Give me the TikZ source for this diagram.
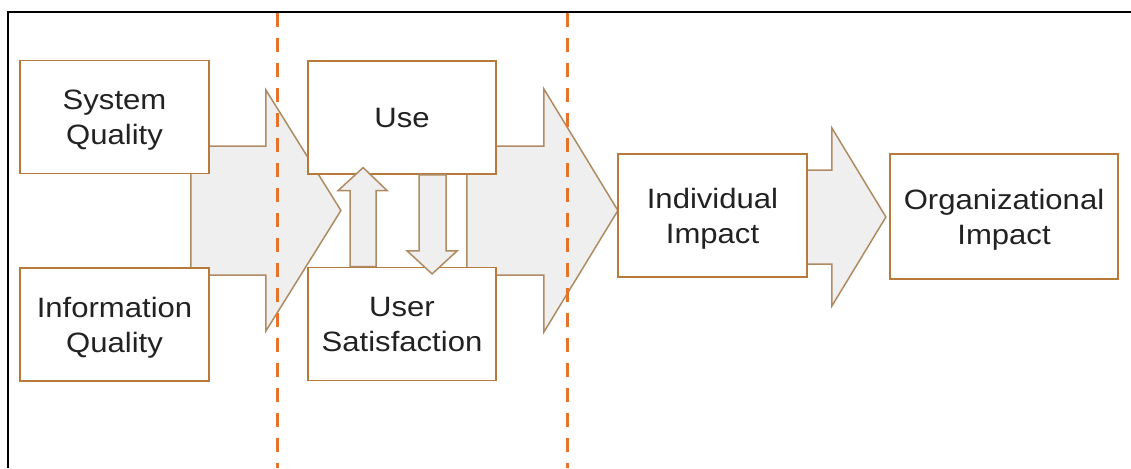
\documentclass[tikz,border=0pt]{standalone}
\usepackage{fontspec}
\setmainfont{Liberation Sans}[FakeStretch=1.11]
\usetikzlibrary{calc,backgrounds}

\definecolor{boxline}{HTML}{B87A3A}
\definecolor{arrowline}{HTML}{B08A62}
\definecolor{arrowfill}{HTML}{EFEFEF}
\definecolor{divline}{HTML}{E6732A}
\definecolor{ink}{HTML}{222222}

\begin{document}
\begin{tikzpicture}[x=1pt,y=-1pt]
\tikzset{box/.style = {draw=boxline,fill=white,line width=1.8pt,minimum width=189pt,minimum height=113pt,align=center,text depth=0pt,text=ink,font=\fontsize{28}{35}\selectfont}}
\tikzset{fat/.style = {draw=arrowline,fill=arrowfill,line width=1.5pt,line join=miter}}
\tikzset{divider/.style = {draw=divline,line width=3pt,dash pattern=on 14pt off 11pt}}
\useasboundingbox (0,0) rectangle (1131,468);
% FRAME
\draw[line width=2.5pt] (8,468) -- (8,12) -- (1131,12);
% DIVIDERS
\draw[divider] (277,13) -- (277,468);
\draw[divider] (567,13) -- (567,468);
% NODES
\node[box] (sq) at (114.5,117) {System\\Quality};
\node[box] (iq) at (114.5,324.5) {Information\\Quality};
\node[box,minimum width=188pt] (use) at (402,117.5) {Use};
\node[box,minimum width=188pt] (us) at (402,324) {User\\Satisfaction};
\node[box,minimum height=123pt] (ii) at (712.5,215.5) {Individual\\Impact};
\node[box,minimum width=228pt,minimum height=125pt] (oi) at (1004,216.5) {Organizational\\Impact};
% EDGES
% wide arrows sit behind the boxes
\begin{scope}[on background layer]
\draw[fat] ($(sq.east)+(-19,29)$) -- ++(75,0) -- ++(0,-56) -- ++(75,120.5) -- ++(-75,120.5) -- ++(0,-56) -- ++(-75,0) -- cycle;
\draw[fat] ($(use.east)+(-30,28.5)$) -- ++(77,0) -- ++(0,-57) -- ++(74,121.5) -- ++(-74,121.5) -- ++(0,-57) -- ++(-77,0) -- cycle;
\draw[fat] ($(ii.east)+(-17,-45.5)$) -- ++(41,0) -- ++(0,-42) -- ++(54,89) -- ++(-54,89) -- ++(0,-42) -- ++(-41,0) -- cycle;
\end{scope}
% use <-> satisfaction
\draw[fat] ($(us.north west)+(43,0)$) -- ++(0,-76) -- ++(-12,0) -- ++(25,-23) -- ++(24,23) -- ++(-11,0) -- ++(0,76) -- cycle;
\draw[fat] ($(use.south west)+(112,0)$) -- ++(0,76) -- ++(-12,0) -- ++(25,23) -- ++(25,-23) -- ++(-11,0) -- ++(0,-76) -- cycle;
\end{tikzpicture}
\end{document}
